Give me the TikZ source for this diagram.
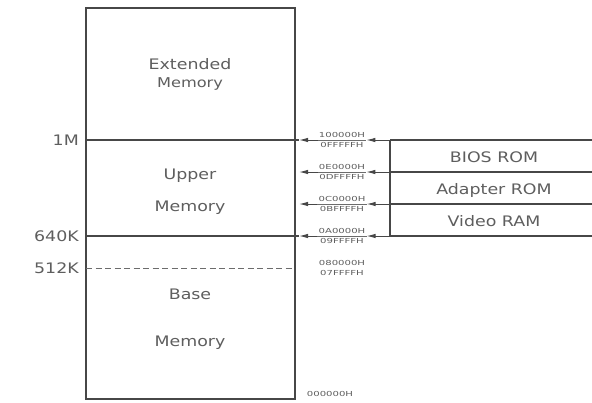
\documentclass[tikz,border=0pt]{standalone}
\usepackage{fontspec}
\usetikzlibrary{arrows.meta}
\setmainfont[FakeStretch=1.2]{DejaVu Sans}
\newcommand{\wideaddr}[1]{\scalebox{1.22}[1]{#1}}
\definecolor{ink}{HTML}{474747}
\definecolor{txt}{HTML}{5E5E5E}
\tikzset{frame/.style={draw=ink,line width=2.3pt},
bound/.style={draw=ink,line width=1.3pt},
split/.style={draw=ink!80,line width=1pt,dash pattern=on 6pt off 3.5pt},
lab/.style={font=\fontsize{14.5}{17}\selectfont,text=txt,inner sep=0pt},
small/.style={font=\fontsize{13.5}{16}\selectfont,text=txt,inner sep=0pt},
addr/.style={font=\fontsize{6.9}{10}\selectfont,text=txt,align=center,inner sep=1pt},
bar/.style={draw=ink!80,line width=.5pt},
ptr/.style={-{Latex[length=9pt,width=4.5pt]},ink,line width=1pt}}

\begin{document}
\begin{tikzpicture}[x=1pt,y=-1pt]
\useasboundingbox (0,0) rectangle (592,402);
\draw[frame] (86,8) rectangle (295,399);
\coordinate (w1) at (86,140);
\coordinate (w2) at (86,236);
\coordinate (w3) at (86,268);
\coordinate (t1) at (299,140);
\coordinate (t2) at (299,172);
\coordinate (t3) at (299,204);
\coordinate (t4) at (299,236);
\coordinate (e3) at (295,268);
\coordinate (b1) at (390,140);
\coordinate (b2) at (390,172);
\coordinate (b3) at (390,204);
\coordinate (b4) at (390,236);
\coordinate (r1) at (592,140);
\coordinate (r2) at (592,172);
\coordinate (r3) at (592,204);
\coordinate (r4) at (592,236);
\draw[bound] (w1) -- (t1);
\draw[bound] (w2) -- (t4);
\draw[split] (w3) -- (e3);
\node[lab,anchor=east] (k1) at (79,140) {1M};
\node[lab,anchor=east] (k640) at (79,236) {640K};
\node[lab,anchor=east] (k512) at (79,268) {512K};
\node[lab,anchor=base] (ext) at (190,69) {Extended};
\node[small,anchor=base] (extm) at (190,87) {Memory};
\node[lab,anchor=base] (upp) at (190,179) {Upper};
\node[lab,anchor=base] (uppm) at (190,211) {Memory};
\node[lab,anchor=base] (base) at (190,299) {Base};
\node[lab,anchor=base] (basem) at (190,346) {Memory};
\node[addr] (a1) at (342,140) {\wideaddr{100000H}\\\wideaddr{0FFFFFH}};
\node[addr] (a2) at (342,172) {\wideaddr{0E0000H}\\\wideaddr{0DFFFFH}};
\node[addr] (a3) at (342,204) {\wideaddr{0C0000H}\\\wideaddr{0BFFFFH}};
\node[addr] (a4) at (342,236) {\wideaddr{0A0000H}\\\wideaddr{09FFFFH}};
\node[addr] (a5) at (342,268) {\wideaddr{080000H}\\\wideaddr{07FFFFH}};
\node[addr] (a0) at (330,394) {\wideaddr{000000H}};
\draw[bar] (a1.west) -- (a1.east);
\draw[bar] (a2.west) -- (a2.east);
\draw[bar] (a3.west) -- (a3.east);
\draw[bar] (a4.west) -- (a4.east);
\draw[ptr] (a1.west) -- (t1);
\draw[ptr] (a2.west) -- (t2);
\draw[ptr] (a3.west) -- (t3);
\draw[ptr] (a4.west) -- (t4);
\draw[ptr] (b1) -- (a1.east);
\draw[ptr] (b2) -- (a2.east);
\draw[ptr] (b3) -- (a3.east);
\draw[ptr] (b4) -- (a4.east);
\draw[bound] (b1) -- (b4);
\draw[bound] (b1) -- (r1);
\draw[bound] (b2) -- (r2);
\draw[bound] (b3) -- (r3);
\draw[bound] (b4) -- (r4);
\node[lab,anchor=base] (bios) at (494,162) {BIOS ROM};
\node[lab,anchor=base] (adp) at (494,194) {Adapter ROM};
\node[lab,anchor=base] (vid) at (494,226) {Video RAM};
\end{tikzpicture}
\end{document}
